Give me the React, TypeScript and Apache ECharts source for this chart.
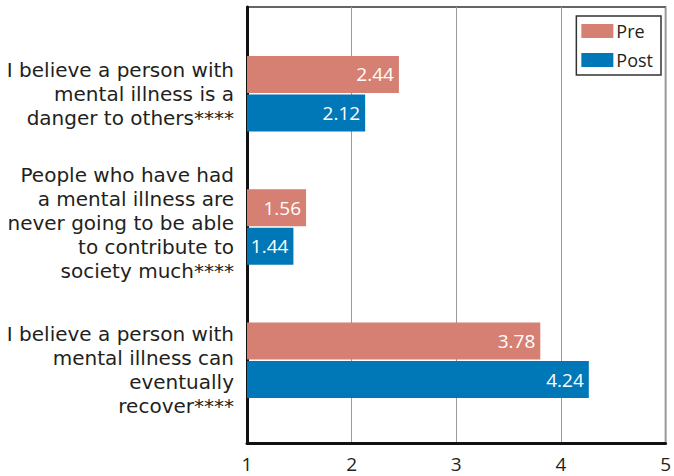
import React, { useEffect, useRef } from "react";
import * as echarts from "echarts";

const categories = [
  "I believe a person with\nmental illness is a\ndanger to others****",
  "People who have had\na mental illness are\nnever going to be able\nto contribute to\nsociety much****",
  "I believe a person with\nmental illness can\neventually\nrecover****",
];
const preValues = [2.44, 1.56, 3.78];
const postValues = [2.12, 1.44, 4.24];

const PRE = "#d67f73";
const POST = "#0077b6";
const FONT = "Open Sans";
const CAT_FONT = "DejaVu Sans";
// extra spacer (px) above / below each category label block
const labelSpacer: [number, number][] = [
  [0, 0],
  [0, 8],
  [19, 0],
];

export default function App() {
  const ref = useRef<HTMLDivElement>(null);
  useEffect(() => {
    const chart = echarts.init(ref.current!, null, { renderer: "svg" });
    const barLabel = {
      show: true,
      position: "insideRight",
      distance: 5,
      color: "#fff",
      fontSize: 19,
      fontFamily: FONT,
      formatter: (p: any) => p.value.toFixed(2),
    };
    const rich: any = {
      t: { fontSize: 20, lineHeight: 24, color: "#231f20", fontFamily: CAT_FONT, align: "right" },
    };
    labelSpacer.forEach(([a, b]) => {
      if (a) rich["s" + a] = { fontSize: 1, lineHeight: a, align: "right" };
      if (b) rich["s" + b] = { fontSize: 1, lineHeight: b, align: "right" };
    });
    chart.setOption({
      animation: false,
      textStyle: { fontFamily: FONT },
      grid: [
        { left: 247, right: 5, top: 7, bottom: 33, show: true, borderColor: "#333", borderWidth: 1.5, backgroundColor: "transparent" },
        { left: 247, right: 5, top: 27, bottom: 49 },
      ],
      legend: {
        data: ["Pre", "Post"],
        orient: "vertical",
        right: 13,
        top: 16,
        itemWidth: 32,
        itemHeight: 14,
        itemGap: 11,
        padding: [6, 8, 6, 5],
        borderColor: "#333",
        borderWidth: 1.5,
        backgroundColor: "#fff",
        textStyle: { fontSize: 18, color: "#231f20", fontFamily: FONT, padding: [0, 0, 0, -2] },
        icon: "rect",
      },
      xAxis: [
        {
          gridIndex: 0,
          type: "value",
          min: 1,
          max: 5,
          interval: 1,
          axisLine: { show: true, onZero: false, lineStyle: { color: "#111", width: 3 } },
          axisTick: { show: false },
          splitLine: { show: true, lineStyle: { color: "#9a9a9a", width: 1 } },
          axisLabel: { fontSize: 19, color: "#231f20", margin: 11, fontFamily: FONT },
        },
        {
          gridIndex: 1,
          type: "value",
          min: 1,
          max: 5,
          interval: 1,
          show: false,
        },
      ],
      yAxis: [
        {
          gridIndex: 0,
          type: "value",
          min: 0,
          max: 1,
          axisLine: { show: true, onZero: false, lineStyle: { color: "#111", width: 3 } },
          axisTick: { show: false },
          axisLabel: { show: false },
          splitLine: { show: false },
        },
        {
          gridIndex: 1,
          type: "category",
          data: categories,
          inverse: true,
          axisLine: { show: false },
          axisTick: { show: false },
          axisLabel: {
            margin: 13,
            align: "right",
            formatter: (value: string, idx: number) => {
              const [a, b] = labelSpacer[idx] || [0, 0];
              const lines = value.split("\n").map((l) => `{t|${l}}`);
              if (a) lines.unshift(`{s${a}| }`);
              if (b) lines.push(`{s${b}| }`);
              return lines.join("\n");
            },
            rich,
          },
        },
      ],
      series: [
        {
          name: "Pre",
          type: "bar",
          xAxisIndex: 1,
          yAxisIndex: 1,
          data: preValues,
          barWidth: 37,
          barGap: "4%",
          itemStyle: { color: PRE },
          label: barLabel,
        },
        {
          name: "Post",
          type: "bar",
          xAxisIndex: 1,
          yAxisIndex: 1,
          data: postValues,
          barWidth: 37,
          barGap: "4%",
          itemStyle: { color: POST },
          label: barLabel,
        },
      ],
    });
    return () => chart.dispose();
  }, []);
  return <div ref={ref} style={{ width: 674, height: 476, position: "absolute", left: 0, top: 0, background: "#fff" }} />;
}
